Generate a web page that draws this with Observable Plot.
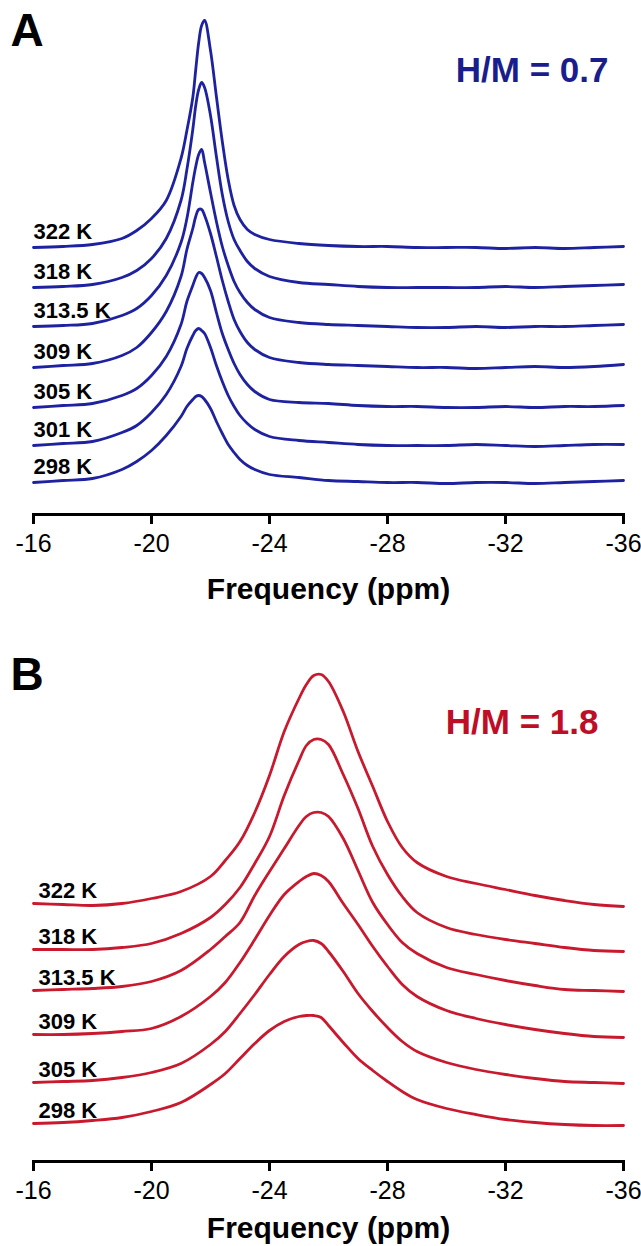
<!DOCTYPE html>
<html><head><meta charset="utf-8">
<script src="https://cdn.jsdelivr.net/npm/d3@7"></script>
<script src="https://cdn.jsdelivr.net/npm/@observablehq/plot@0.6"></script>
<style>
body{margin:0;background:#fff;font-family:"Liberation Sans",Arial,sans-serif;}
#chart svg{display:block;}
</style></head><body><div id="chart"></div>
<script>
// ---------- shared ----------
const xTicks = [-16, -20, -24, -28, -32, -36];
const xLabel = "Frequency (ppm)";

// ---------- Panel A (H/M = 0.7) ----------
const ppmA = [-16,-17,-18,-19,-19.5,-20,-20.5,-21,-21.2,-21.4,-21.5,-21.6,-21.7,-21.8,-22,-22.2,-22.4,-22.6,-22.8,-23,-23.25,-23.5,-24,-25,-26,-27,-28,-29,-30,-31,-32,-33,-34,-35,-36];
const tempsA = ["322 K","318 K","313.5 K","309 K","305 K","301 K","298 K"];
const offsetsA = [235, 195, 156, 115, 75, 37, 0];
const a322 = [0,1,3,9,17,29,47,89,117,150,178,205,222,227,197,151,106,68,42,28,18,13,8,4,2,1,1,0,0,0,-1,0,-1,0,1];
const a318 = [0,1,3,10,17,29,49,87,118,158,182,198,205,200,172,131,93,66,48,37,26,19,11,5,3,1,0,0,0,0,1,0,1,2,3];
const a3135 = [0,1,3,11,18,31,51,84,108,144,160,172,177,164,134,105,80,61,45,34,24,17,9,4,2,1,0,-1,-1,0,-1,0,0,1,2];
const a309 = [0,2,4,12,20,35,56,91,118,139,151,158,158,152,134,111,87,66,48,36,25,18,10,5,3,2,1,0,0,-1,0,1,0,1,3];
const a305 = [0,2,4,12,19,32,51,83,106,122,130,135,134,130,117,95,74,58,44,33,23,16,8,5,4,2,1,1,0,0,1,0,1,1,2];
const a301 = [0,2,4,13,20,33,51,79,97,110,115,117,115,112,98,80,64,50,39,30,22,16,9,5,3,1,0,0,0,1,0,-1,0,1,1];
const a298 = [0,2,4,13,21,32,47,66,76,83,86,87,86,83,74,61,49,38,30,23,17,13,8,5,2,1,0,0,-1,0,0,-1,0,1,2];
const spectraA = [a322, a318, a3135, a309, a305, a301, a298];

// ---------- Panel B (H/M = 1.8) ----------
const ppmB = [-16,-17,-18,-19,-20,-21,-22,-22.5,-23,-23.5,-24,-24.5,-25,-25.25,-25.5,-25.75,-26,-26.5,-27,-27.5,-28,-28.5,-29,-30,-31,-32,-33,-34,-35,-36];
const tempsB = ["322 K","318 K","313.5 K","309 K","305 K","298 K"];
const offsetsB = [220, 174, 133, 89, 41, 0];
const b322 = [0,-1,-2,0,5,12,27,43,62,91,128,172,205,219,228,229,222,192,152,117,82,56,41,27,20,14,8,3,-1,-3];
const b318 = [0,0,0,2,6,16,32,45,62,86,113,154,189,204,210,210,205,175,141,103,75,53,37,22,15,10,6,2,-1,-2];
const b3135 = [0,1,2,4,9,20,41,54,68,95,119,142,165,174,178,178,174,152,120,88,66,48,37,23,16,10,5,1,0,-1];
const b309 = [0,0,1,3,6,18,38,52,72,95,119,140,153,158,161,159,153,131,110,88,68,50,38,24,16,10,5,1,-2,-3];
const b305 = [0,1,2,5,10,19,38,51,69,88,108,126,138,141,142,139,131,111,89,71,55,41,31,20,13,8,4,1,0,-1];
const b298 = [0,1,3,6,12,21,39,50,65,80,93,102,107,108,108,106,98,81,65,53,42,32,24,15,9,4,1,-1,-2,-2];
const spectraB = [b322, b318, b3135, b309, b305, b298];

const FONT = '"Liberation Sans", Arial, Helvetica, sans-serif';

function panel(o) {
  const rows = [];
  o.spectra.forEach((vals, i) => vals.forEach((v, j) =>
    rows.push({ppm: o.ppm[j], y: o.offsets[i] + v, temp: o.temps[i]})));
  const labels = o.temps.map((t, i) => ({temp: t, ppm: o.ppm[0], y: o.offsets[i]}));
  return Plot.plot({
    width: 641,
    height: o.height,
    marginTop: 0,
    marginBottom: o.height - 514,
    marginLeft: 33,
    marginRight: 18,
    style: {fontFamily: FONT, color: "#000", background: "#fff", overflow: "visible"},
    x: {domain: [-16, -36], label: null},
    y: {domain: o.yDomain, axis: null},
    marks: [
      Plot.line(rows, {x: "ppm", y: "y", z: "temp", stroke: o.lineColor, strokeWidth: 2.8, curve: "catmull-rom"}),
      Plot.text(labels, {x: "ppm", y: "y", text: "temp", textAnchor: "start", lineAnchor: "bottom",
        dx: o.labelDx, dy: o.labelDy, fontSize: 22, fontWeight: "bold", fill: "#000"}),
      Plot.frame({anchor: "bottom", strokeWidth: 3, stroke: "#000"}),
      Plot.axisX({ticks: xTicks, tickSize: 10, tickPadding: 10, strokeWidth: 3, fontSize: 25,
        tickFormat: d => String(d), fill: "#000", stroke: "#000"}),
      Plot.text([o.letter], {frameAnchor: "top-left", dx: -23, dy: o.letterDy, textAnchor: "start",
        lineAnchor: "top", fontSize: 46, fontWeight: "bold", fill: "#000"}),
      Plot.text([o.hm], {frameAnchor: "top-right", dx: o.hmDx, dy: o.hmDy, textAnchor: "end",
        lineAnchor: "top", fontSize: 35, fontWeight: "bold", fill: o.textColor}),
      Plot.text([xLabel], {frameAnchor: "bottom", lineAnchor: "middle", dy: o.titleDy, fontSize: 30,
        fontWeight: "bold", fill: "#000"})
    ]
  });
}

const chart = document.getElementById("chart");
chart.append(panel({
  ppm: ppmA, temps: tempsA, offsets: offsetsA, spectra: spectraA,
  lineColor: "#1f22a0", textColor: "#1a1e8c", letter: "A", hm: "H/M = 0.7",
  height: 647, yDomain: [-32, 482], labelDx: 0, labelDy: -9,
  hmDx: -15, hmDy: 57, letterDy: 13, titleDy: 75
}));
chart.append(panel({
  ppm: ppmB, temps: tempsB, offsets: offsetsB, spectra: spectraB,
  lineColor: "#c8192e", textColor: "#c00d27", letter: "B", hm: "H/M = 1.8",
  height: 599, yDomain: [-38, 476], labelDx: 5, labelDy: -6,
  hmDx: -25, hmDy: 62, letterDy: 10, titleDy: 67
}));
</script></body></html>
